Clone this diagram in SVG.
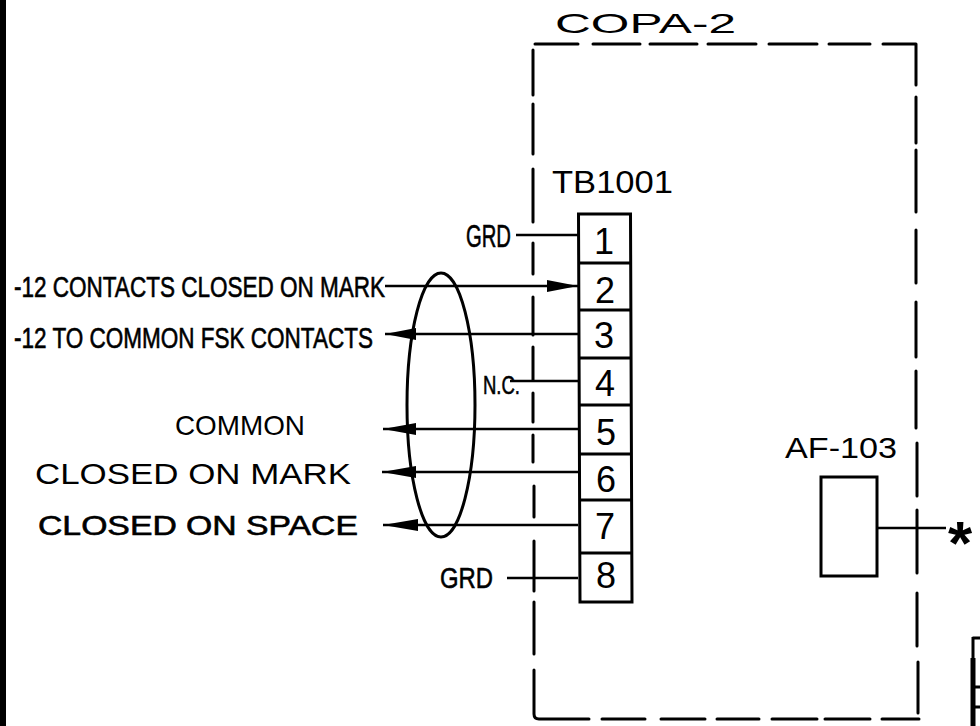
<svg xmlns="http://www.w3.org/2000/svg" width="980" height="726" viewBox="0 0 980 726">
<defs>
<style>
text{font-family:"Liberation Sans",Arial,sans-serif;fill:#000;}
.t{stroke:#000;stroke-width:0.6;}
.w{stroke:#000;stroke-width:2.3;fill:none;}
.b{stroke:#000;stroke-width:3;fill:none;}
.d{stroke:#000;stroke-width:3;fill:none;stroke-linecap:round;}
.n{font-size:36px;text-anchor:middle;}
.a{fill:#000;stroke:none;}
</style>
</defs>
<rect width="980" height="726" fill="#fff"/>
<g id="sheet-edge">
<rect x="0" y="0" width="6" height="726" fill="#000"/>
<path class="b" d="M972.5 638H980M973 637V726M973 687H980M973 707H980"/>
<path d="M973 658V726" stroke="#000" stroke-width="5" fill="none"/>
</g>
<g id="copa-2">
<path class="d" d="M535 44H578M593 44H640M650 44H697M708 44H756M769 44H817M829 44H870M883 44H916
M916 44V85M916 97V143M916 150V212M916 230V283M916 302V357M916 371V428M917 443V496M917 510V573M917 593V646M918 662V713
M533 50V95M533 104V154M533 169V222M533 243V274M533 297V335M533 347V380M533 393V422M533 435V462M534 486V517M534 541V591M534 602V654M534 670V714Q534 719 539 719H589M602 719H645M661 719H705M717 719H759M772 719H817M825 719H870M882 719H919"/>
<text x="555" y="33" font-size="28" textLength="181" lengthAdjust="spacingAndGlyphs">COPA-2</text>
</g>
<g id="tb1001">
<text x="552" y="193" font-size="31" textLength="121" lengthAdjust="spacingAndGlyphs">TB1001</text>
<path class="b" d="M578.5 214H630.5L632 602H580ZM579 263H631M579 310H631M579 358H631M579 405H631M580 454H632M580 500H632M580 553H632"/>
<text class="n" x="604" y="254">1</text>
<text class="n" x="605" y="303">2</text>
<text class="n" x="604" y="348">3</text>
<text class="n" x="605" y="396">4</text>
<text class="n" x="606" y="445">5</text>
<text class="n" x="606" y="492">6</text>
<text class="n" x="605" y="539">7</text>
<text class="n" x="606" y="588">8</text>
</g>
<g id="af-103">
<text x="785" y="458" font-size="29" textLength="112" lengthAdjust="spacingAndGlyphs">AF-103</text>
<rect class="b" x="821" y="477" width="56" height="99"/>
<text x="948" y="564" font-size="62" font-weight="bold">*</text>
</g>
<g id="labels">
<text class="t" x="14" y="297" font-size="29" textLength="371" lengthAdjust="spacingAndGlyphs">-12 CONTACTS CLOSED ON MARK</text>
<text class="t" x="14" y="348" font-size="29" textLength="359" lengthAdjust="spacingAndGlyphs">-12 TO COMMON FSK CONTACTS</text>
<text x="175" y="435" font-size="28" textLength="130" lengthAdjust="spacingAndGlyphs">COMMON</text>
<text x="35" y="484" font-size="30" textLength="316" lengthAdjust="spacingAndGlyphs">CLOSED ON MARK</text>
<text class="t" x="38" y="535" font-size="27" textLength="320" lengthAdjust="spacingAndGlyphs">CLOSED ON SPACE</text>
<text class="t" x="466" y="247" font-size="31" textLength="45" lengthAdjust="spacingAndGlyphs">GRD</text>
<text class="t" x="440" y="588" font-size="30" textLength="53" lengthAdjust="spacingAndGlyphs">GRD</text>
<text class="t" x="483" y="394" font-size="26" textLength="37" lengthAdjust="spacingAndGlyphs">N.C.</text>
</g>
<g id="connectors">
<ellipse class="b" cx="441" cy="405" rx="34" ry="132"/>
<path class="w" d="M516 235H578M385 286H578M385 334H578M510 381H578M383 429H578M382 472H578M383 525H578M507 578H578M877 528H946"/>
<path class="a" d="M578 286L547 280V292Z"/>
<path class="a" d="M385 334L416 328V340Z"/>
<path class="a" d="M383 429L416 423V435Z"/>
<path class="a" d="M382 472L416 466V478Z"/>
<path class="a" d="M383 525L418 519V531Z"/>
</g>
</svg>
